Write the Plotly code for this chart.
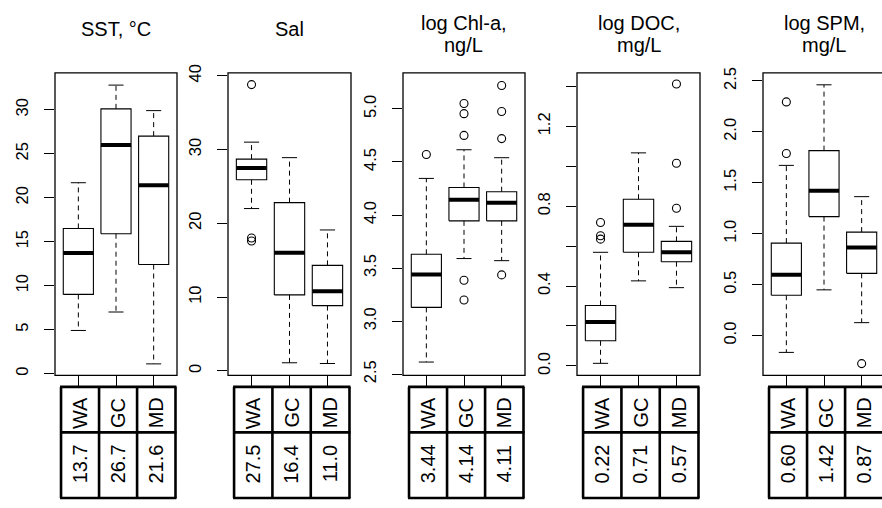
import plotly.graph_objects as go

W, H = 882, 508

groups = ["WA", "GC", "MD"]

# ---- data ----
sst_low = [4.9, 7.0, 1.1]
sst_q1 = [9.0, 15.9, 12.4]
sst_med = [13.7, 26.0, 21.4]
sst_q3 = [16.5, 30.1, 27.0]
sst_high = [21.7, 32.8, 29.9]
sst_out = [[], [], []]
sst_mean = [13.7, 26.7, 21.6]

sal_low = [22.0, 1.1, 1.0]
sal_q1 = [25.9, 10.3, 8.85]
sal_med = [27.5, 16.0, 10.8]
sal_q3 = [28.7, 22.8, 14.3]
sal_high = [31.0, 28.9, 19.1]
sal_out = [[38.8, 18.0, 17.6], [], []]
sal_mean = [27.5, 16.4, 11.0]

chl_low = [2.615, 3.59, 3.57]
chl_q1 = [3.13, 3.945, 3.945]
chl_med = [3.44, 4.145, 4.115]
chl_q3 = [3.63, 4.26, 4.22]
chl_high = [4.345, 4.615, 4.54]
chl_out = [[4.57], [5.05, 4.955, 4.75, 3.385, 3.20], [5.22, 4.976, 4.72, 3.436]]
chl_mean = [3.44, 4.14, 4.11]

doc_low = [0.013, 0.426, 0.392]
doc_q1 = [0.126, 0.569, 0.522]
doc_med = [0.22, 0.707, 0.569]
doc_q3 = [0.303, 0.835, 0.624]
doc_high = [0.569, 1.067, 0.699]
doc_out = [[0.718, 0.652, 0.635], [], [1.412, 1.015, 0.79]]
doc_mean = [0.22, 0.71, 0.57]

spm_low = [-0.165, 0.449, 0.127]
spm_q1 = [0.396, 1.168, 0.611]
spm_med = [0.598, 1.421, 0.864]
spm_q3 = [0.908, 1.816, 1.016]
spm_high = [1.671, 2.462, 1.364]
spm_out = [[2.294, 1.788], [], [-0.275]]
spm_mean = [0.60, 1.42, 0.87]

titles = [["SST, °C"], ["Sal"], ["log Chl-a,", "ng/L"], ["log DOC,", "mg/L"], ["log SPM,", "mg/L"]]
mean_fmt = ["{:.1f}", "{:.1f}", "{:.2f}", "{:.2f}", "{:.2f}"]

y_ranges = [[-0.2, 34.2], [-0.6, 40.4], [2.49, 5.34], [-0.047, 1.468], [-0.39, 2.58]]
y_ticks = [[0, 5, 10, 15, 20, 25, 30],
           [0, 10, 20, 30, 40],
           [2.5, 3.0, 3.5, 4.0, 4.5, 5.0],
           [0.0, 0.2, 0.4, 0.6, 0.8, 1.0, 1.2, 1.4],
           [0.0, 0.5, 1.0, 1.5, 2.0, 2.5]]
y_ticktext = [[str(v) for v in y_ticks[0]],
              [str(v) for v in y_ticks[1]],
              ["%.1f" % v for v in y_ticks[2]],
              ["0.0", "", "0.4", "", "0.8", "", "1.2", ""],
              ["%.1f" % v for v in y_ticks[4]]]

panels = [
    (sst_low, sst_q1, sst_med, sst_q3, sst_high, sst_out, sst_mean),
    (sal_low, sal_q1, sal_med, sal_q3, sal_high, sal_out, sal_mean),
    (chl_low, chl_q1, chl_med, chl_q3, chl_high, chl_out, chl_mean),
    (doc_low, doc_q1, doc_med, doc_q3, doc_high, doc_out, doc_mean),
    (spm_low, spm_q1, spm_med, spm_q3, spm_high, spm_out, spm_mean),
]

# ---- layout geometry (pixels) ----
panel_left = [55, 228, 403, 577, 763]
panel_width = [122, 123, 122, 123, 122]
plot_top, plot_bottom = 66, 379
XR = [0.38, 3.62]
tab_top, tab_mid, tab_bot = 391, 438, 506
col_bounds = [0.54, 1.55, 2.56, 3.58]

FONT = "Liberation Sans, Arial, sans-serif"


def px_x(px):
    return px / W


def px_y(py):
    return 1 - py / H


fig = go.Figure()
shapes = []
annotations = []
layout_axes = {}

for i, (lo, q1, md, q3, hi, outs, mean) in enumerate(panels):
    sfx = "" if i == 0 else str(i + 1)
    xa, ya = "x" + sfx, "y" + sfx
    left = panel_left[i]
    pw = panel_width[i]
    ppu = pw / (XR[1] - XR[0])
    right_vis = min(left + pw, W)
    xr = [XR[0], XR[0] + (right_vis - left) / ppu]

    def ux(u, left=left, ppu=ppu):
        return left + (u - XR[0]) * ppu

    pos = [1, 2, 3]
    bx, by, mx, my, wx, wy, sx, sy, ox, oy = [], [], [], [], [], [], [], [], [], []
    for k, c in enumerate(pos):
        bx += [c - 0.4, c + 0.4, c + 0.4, c - 0.4, c - 0.4, None]
        by += [q1[k], q1[k], q3[k], q3[k], q1[k], None]
        mx += [c - 0.4, c + 0.4, None]
        my += [md[k], md[k], None]
        wx += [c, c, None, c, c, None]
        wy += [q3[k], hi[k], None, q1[k], lo[k], None]
        sx += [c - 0.2, c + 0.2, None, c - 0.2, c + 0.2, None]
        sy += [hi[k], hi[k], None, lo[k], lo[k], None]
        for v in outs[k]:
            ox.append(c)
            oy.append(v)

    common = dict(xaxis=xa, yaxis=ya, showlegend=False, hoverinfo="skip")
    fig.add_trace(go.Scatter(x=wx, y=wy, mode="lines",
                             line=dict(color="black", width=1, dash="5px,4px"), **common))
    fig.add_trace(go.Scatter(x=sx, y=sy, mode="lines",
                             line=dict(color="black", width=1), **common))
    fig.add_trace(go.Scatter(x=bx, y=by, mode="lines",
                             line=dict(color="black", width=1.1), **common))
    fig.add_trace(go.Scatter(x=mx, y=my, mode="lines",
                             line=dict(color="black", width=4), **common))
    if ox:
        fig.add_trace(go.Scatter(x=ox, y=oy, mode="markers",
                                 marker=dict(symbol="circle-open", size=8, color="black",
                                             line=dict(width=1.1, color="black")),
                                 cliponaxis=False, **common))

    layout_axes["xaxis" + sfx] = dict(
        domain=[px_x(left), px_x(right_vis)], range=xr, anchor=ya,
        showgrid=False, zeroline=False, showline=False,
        tickvals=pos, ticktext=["", "", ""], ticks="outside", ticklen=12,
        tickwidth=1, tickcolor="black", fixedrange=True)
    layout_axes["yaxis" + sfx] = dict(
        domain=[px_y(plot_bottom), px_y(plot_top)], range=y_ranges[i], anchor=xa,
        showgrid=False, zeroline=False, showline=False,
        tickvals=y_ticks[i], ticktext=y_ticktext[i], tickangle=-90,
        ticks="outside", ticklen=10, tickwidth=1, tickcolor="black",
        ticklabelstandoff=9,
        tickfont=dict(family=FONT, size=16.5, color="black"), fixedrange=True)

    # frame
    shapes.append(dict(type="rect", xref="paper", yref="paper",
                       x0=px_x(left), x1=px_x(left + pw), y0=px_y(plot_bottom), y1=px_y(plot_top),
                       line=dict(color="black", width=1.3)))

    # table
    tl, tr = ux(col_bounds[0]), ux(col_bounds[-1])
    lw = 2.6
    for yy in (tab_top, tab_mid, tab_bot):
        shapes.append(dict(type="line", xref="paper", yref="paper",
                           x0=px_x(tl - 1), x1=px_x(tr + 1), y0=px_y(yy), y1=px_y(yy),
                           line=dict(color="black", width=lw)))
    for cb in col_bounds:
        xx = ux(cb)
        shapes.append(dict(type="line", xref="paper", yref="paper",
                           x0=px_x(xx), x1=px_x(xx), y0=px_y(tab_top), y1=px_y(tab_bot),
                           line=dict(color="black", width=lw)))
    for k in range(3):
        cx = ux((col_bounds[k] + col_bounds[k + 1]) / 2)
        annotations.append(dict(xref="paper", yref="paper", x=px_x(cx), y=px_y(418),
                                text=groups[k], textangle=-90, showarrow=False,
                                xanchor="center", yanchor="middle",
                                font=dict(family=FONT, size=20, color="black")))
        annotations.append(dict(xref="paper", yref="paper", x=px_x(cx), y=px_y(471),
                                text=mean_fmt[i].format(mean[k]), textangle=-90, showarrow=False,
                                xanchor="center", yanchor="middle",
                                font=dict(family=FONT, size=20, color="black")))

    # title
    tcx = left + pw / 2
    lines = titles[i]
    ys = [21] if len(lines) == 1 else [14, 37]
    for t, yy in zip(lines, ys):
        annotations.append(dict(xref="paper", yref="paper", x=px_x(tcx), y=px_y(yy),
                                text=t, showarrow=False, xanchor="center", yanchor="middle",
                                font=dict(family=FONT, size=20, color="black")))

fig.update_layout(
    width=W, height=H, autosize=False,
    margin=dict(l=0, r=0, t=0, b=0, pad=0),
    paper_bgcolor="white", plot_bgcolor="white",
    shapes=shapes, annotations=annotations,
    font=dict(family=FONT, color="black"),
    **layout_axes,
)

fig.write_html("out.html", config={"displayModeBar": False})
